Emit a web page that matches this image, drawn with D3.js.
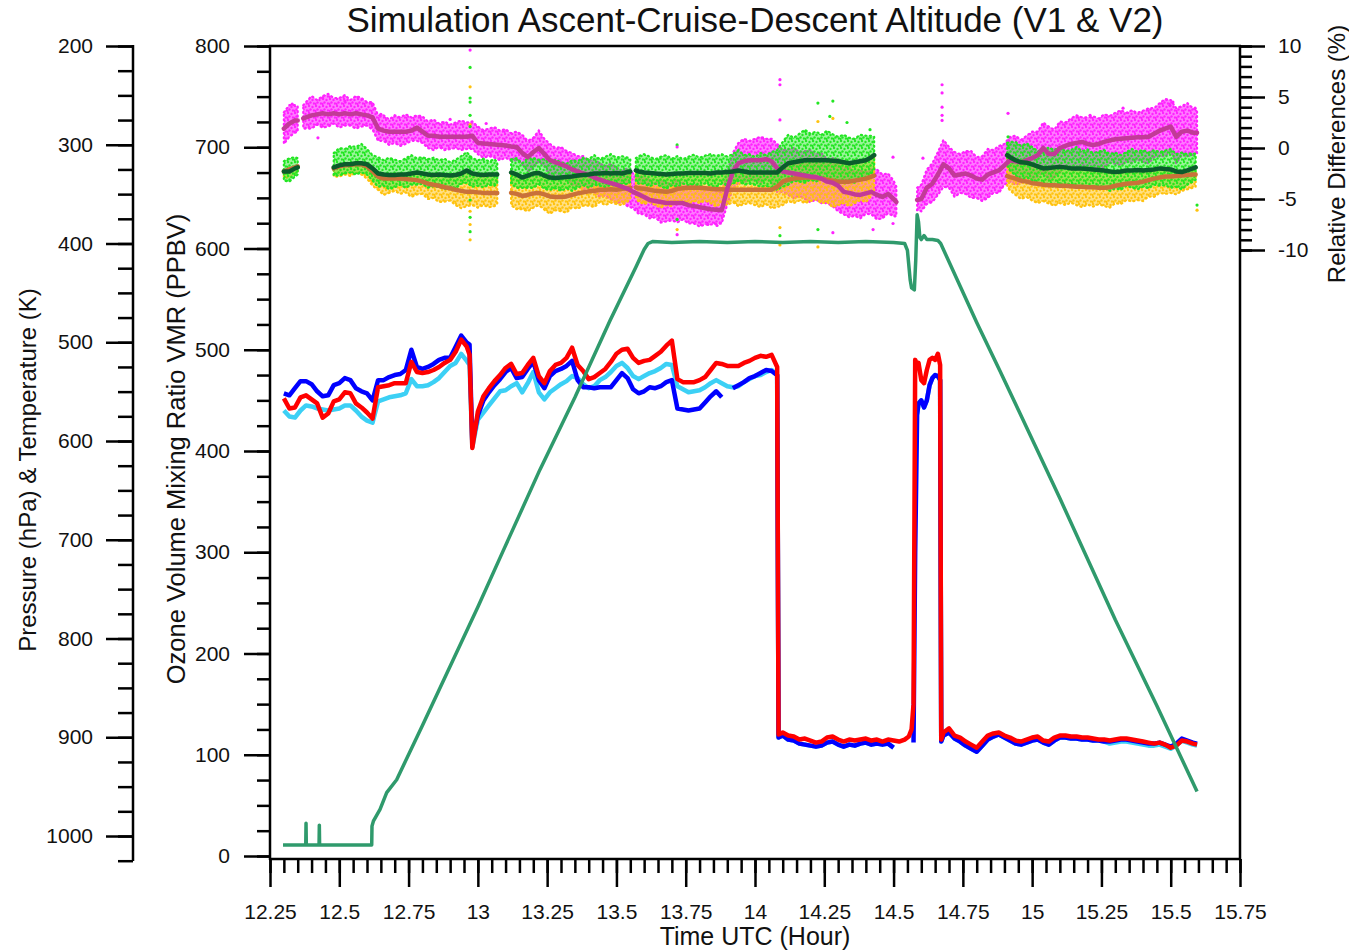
<!DOCTYPE html>
<html>
<head>
<meta charset="utf-8">
<script src="https://cdn.jsdelivr.net/npm/d3@7"></script>
<style>
body { margin: 0; background: #fff; }
text { font-family: "Liberation Sans", Arial, sans-serif; fill: #111; }
.tick line { stroke: #000; stroke-width: 2.5; }
.tick text { font-size: 21px; }
</style>
</head>
<body>
<svg id="chart" width="1349" height="950"></svg>
<script>
// ---- tick labels ----
var timeTicks = [12.25, 12.5, 12.75, 13, 13.25, 13.5, 13.75, 14, 14.25, 14.5, 14.75, 15, 15.25, 15.5, 15.75];
var ozoneTicks = [0, 100, 200, 300, 400, 500, 600, 700, 800];
var pressTicks = [200, 300, 400, 500, 600, 700, 800, 900, 1000];
var relTicks = [-10, -5, 0, 5, 10];

// ---- ozone VMR (ppbv): red, blue, light blue ----
var tOz = [12.30,12.32,12.34,12.36,12.38,12.40,12.42,12.44,12.46,12.48,12.50,12.52,12.54,12.56,12.58,12.60,12.62,12.64,12.66,12.68,12.70,12.72,12.74,12.76,12.78,12.80,12.82,12.84,12.86,12.88,12.90,12.92,12.94,12.96,
  12.97,12.98,
  13.00,13.02,13.04,13.06,13.08,13.10,13.12,13.14,13.16,13.18,13.20,13.22,13.24,13.26,13.28,13.30,13.32,13.34,13.36,13.38,13.40,13.42,13.44,13.46,13.48,13.50,13.52,13.54,13.56,13.58,13.60,13.62,13.64,13.66,13.68,13.70,13.72,13.74,13.76,13.78,13.80,13.82,13.84,13.86,13.88,13.90,13.92,13.94,13.96,13.98,14.00,14.02,14.04,14.06,
  14.08,14.085,
  14.10,14.12,14.14,14.16,14.18,14.20,14.22,14.24,14.26,14.28,14.30,14.32,14.34,14.36,14.38,14.40,14.42,14.44,14.46,14.48,14.50,14.52,14.54,
  14.555,14.565,14.572,14.578,14.585,14.59,14.60,14.61,14.62,14.63,14.64,14.65,14.66,14.668,14.672,14.68,
  14.70,14.72,14.74,14.76,14.78,14.80,14.82,14.84,14.86,14.88,14.90,14.92,14.94,14.96,14.98,15.00,15.02,15.04,15.06,15.08,15.10,15.12,15.14,15.16,15.18,15.20,15.22,15.24,15.26,15.28,15.30,15.32,15.34,15.36,15.38,15.40,15.42,15.44,15.46,15.48,15.50,15.52,15.54,15.56,15.58,
  15.595];

var ozRed = [452,442,443,453,455,451,447,433,437,449,451,458,457,447,443,438,432,463,464,465,467,467,467,488,478,477,478,480,483,487,490,498,510,503,
  495,403,
  439,454,462,469,475,482,486,476,477,485,492,474,467,479,485,487,492,502,485,479,471,473,477,481,488,496,500,501,492,487,489,490,494,498,504,509,471,468,468,468,470,473,480,487,486,484,484,484,487,489,492,494,493,495,
  483,120,
  122,119,118,115,116,114,112,113,117,118,115,113,115,114,115,116,114,115,113,115,114,113,115,
  118,125,150,490,485,487,470,467,480,490,492,490,496,485,115,122,
  126,119,117,113,110,107,113,119,121,122,119,117,114,113,115,117,118,114,113,117,119,119,118,118,117,117,116,115,115,114,115,116,116,115,114,113,112,111,112,110,107,109,114,113,111,
  110];

var ozBlue = [457,455,462,469,469,466,459,454,455,465,467,472,470,462,459,457,450,470,470,473,475,476,480,500,483,481,483,486,490,492,492,503,514,507,
  505,408,
  435,450,458,465,471,478,482,472,473,481,488,470,462,474,479,481,484,489,470,463,463,462,463,463,463,470,477,472,461,457,459,463,462,464,468,470,442,441,440,441,442,448,454,459,453,null,462,465,468,472,474,477,480,479,
  475,117,
  119,115,114,111,110,109,108,109,112,113,110,108,110,109,111,112,110,111,110,111,107,null,null,
  null,null,112,300,436,447,450,443,450,465,472,475,474,470,113,119,
  122,116,113,109,106,103,109,115,118,120,117,114,111,110,112,114,115,112,110,114,117,117,116,116,115,115,114,114,113,113,114,115,115,114,113,112,111,111,112,110,108,111,116,114,112,
  111];

var ozCyan = [440,434,433,440,445,444,442,441,440,441,442,445,445,440,434,430,428,449,451,453,454,455,457,471,464,464,465,468,472,478,484,487,496,489,
  485,404,
  431,438,445,452,459,460,464,467,458,467,478,458,451,458,462,466,469,474,472,466,462,464,470,473,478,484,487,482,474,471,474,477,479,482,486,485,464,461,458,459,460,463,467,470,467,464,463,464,468,471,474,475,478,480,
  475,117,
  119,115,114,111,110,109,108,109,112,113,110,108,110,109,111,112,110,111,110,111,107,null,null,
  null,null,null,null,436,447,450,443,450,465,472,475,474,470,113,119,
  122,116,113,109,106,103,109,115,118,120,117,114,111,110,112,114,115,112,110,114,117,117,116,116,115,115,114,114,113,111,112,113,113,112,111,110,109,109,110,108,106,109,114,112,110,
  109];

// ---- flight profile, pressure (hPa) ----
var tAlt = [12.297,12.379,12.380,12.381,12.427,12.428,12.429,12.617,12.618,12.623,12.647,12.671,12.707,12.80,12.90,13.00,13.09,13.224,13.35,13.477,13.57,13.60,13.614,13.63,13.70,13.80,13.90,14.00,14.10,14.20,14.30,14.40,14.50,14.54,14.55,14.56,14.565,14.575,14.58,14.585,14.59,14.595,14.60,14.61,14.62,14.64,14.66,14.67,14.80,14.884,15.10,15.30,15.45,15.595];
var pAlt = [1009,1009,987,1009,1009,989,1009,1009,990,985,973,956,943,888,828,768,712,629,556,478,424,406,400,398,399,398,399,398,399,398,399,398,399,400,407,437,445,447,417,371,378,394,396,392,396,396,397,400,480,529,658,781,868,955];

// ---- relative differences (%), magenta group ----
var tMag = [12.30,12.32,12.34,12.35,12.36,12.37,
  12.38,12.40,12.42,12.44,12.46,12.48,12.50,12.52,12.54,12.56,12.58,12.60,12.62,
  12.64,12.66,12.68,12.70,12.72,12.74,12.76,12.78,12.80,12.82,12.84,12.86,12.88,12.90,12.92,12.94,12.96,
  12.98,13.00,13.02,13.04,13.06,13.08,13.10,13.12,13.14,13.16,13.18,13.20,13.22,13.24,13.26,13.28,13.30,13.32,13.34,
  13.36,13.38,13.40,13.42,13.44,13.46,13.48,13.50,13.52,13.54,13.56,13.58,13.60,13.62,13.64,13.66,13.68,13.70,13.72,13.74,13.76,13.78,13.80,13.82,13.84,13.86,13.88,
  13.90,13.92,13.94,13.96,13.98,14.00,14.02,14.04,14.06,14.08,14.10,14.12,14.14,14.16,14.18,14.20,14.22,14.24,14.26,14.28,14.30,14.32,14.34,14.36,14.38,14.40,14.42,14.44,14.46,14.48,14.50,
  14.51,14.55,14.585,
  14.60,14.62,14.64,14.66,14.68,14.70,14.72,14.74,14.76,14.78,14.80,14.82,14.84,14.86,14.88,14.90,14.92,14.94,14.96,14.98,15.00,15.02,15.04,15.06,15.08,15.10,15.12,15.14,15.16,15.18,15.20,15.22,15.24,15.26,15.28,15.30,15.32,15.34,15.36,15.38,15.40,15.42,15.44,15.46,15.48,15.50,15.52,15.54,15.56,15.58,
  15.595];
var magMid = [1.9,2.4,2.7,2.7,null,2.9,
  3.0,3.2,3.3,3.4,3.3,3.4,3.3,3.4,3.3,3.4,3.3,3.2,3.0,
  1.9,1.7,1.6,1.6,1.6,1.6,1.7,2.0,1.6,1.2,1.2,1.1,1.1,1.1,1.1,1.1,1.1,
  1.2,0.5,0.45,0.4,0.35,0.3,0.25,0.15,0.1,-0.5,-0.9,-0.4,0.0,-0.6,-1.2,-1.4,-1.6,-1.8,-2.1,
  -2.3,-2.5,-2.65,-2.9,-3.1,-3.3,-3.45,-3.6,-3.8,-4.0,-4.3,-4.55,-4.8,-5.1,-5.2,-5.3,-5.4,-5.4,-5.4,-5.4,-5.6,-5.7,-5.8,-5.9,-6.0,-6.05,-6.1,
  -4.0,-2.3,-1.5,-1.3,-1.2,-1.2,-1.2,-1.1,-1.3,-2.0,-2.3,-2.4,-2.5,-2.6,-2.7,-2.8,-2.85,-3.0,-3.3,-3.4,-3.7,-4.3,-4.4,-4.55,-4.6,-4.45,-4.3,-4.6,-4.8,-4.5,-5.0,
  -5.3,null,-5.1,
  -5.0,-3.9,-3.5,-2.6,-1.6,-2.0,-2.7,-2.6,-2.5,-2.7,-3.0,-3.1,-2.6,-2.4,-2.2,-1.7,-1.2,-1.3,-1.4,-1.2,-1.0,-0.7,0.0,-0.6,-0.6,0.0,0.2,0.4,0.5,0.6,0.4,0.3,0.4,0.6,0.75,0.85,0.9,0.95,1.0,1.05,1.05,1.1,1.4,1.7,1.9,2.1,1.1,1.6,1.7,1.5,
  1.5];
var magUp = [1.6,1.8,1.5,1.4,null,1.3,
  1.5,1.9,1.4,1.7,2.0,1.5,1.6,1.8,1.4,1.7,1.6,1.3,1.5,
  1.3,1.5,1.2,1.6,1.4,1.7,1.3,1.2,1.5,1.4,1.6,1.3,1.5,1.2,1.4,1.6,1.4,
  1.4,1.6,1.3,1.5,1.7,1.4,1.6,1.3,1.5,1.8,1.6,1.4,1.7,1.5,1.6,1.4,1.7,1.5,1.6,
  1.5,1.7,1.4,1.8,1.6,1.5,1.9,1.7,1.6,2.0,1.8,1.7,2.1,1.9,1.8,2.2,2.0,1.9,2.3,2.0,1.8,2.1,1.9,2.0,1.8,1.9,1.7,
  1.6,1.8,2.0,2.2,1.9,2.1,2.3,2.0,2.2,2.4,2.1,2.3,2.5,2.2,2.4,2.6,2.3,2.5,2.2,2.4,2.6,2.3,2.5,2.2,2.4,2.1,2.3,2.5,2.2,2.0,1.8,
  1.5,null,1.2,
  1.4,1.8,2.0,2.2,2.4,2.1,2.3,2.0,2.2,2.4,2.1,2.3,2.5,2.2,2.4,2.1,2.3,2.5,2.2,2.4,2.6,2.3,2.5,2.7,2.4,2.6,2.3,2.5,2.7,2.4,2.6,2.8,2.5,2.7,2.4,2.6,2.8,2.5,2.7,2.4,2.6,2.8,2.5,2.7,2.9,2.6,2.8,2.5,2.7,2.4,
  2.2];
var magDn = [1.5,1.3,1.2,1.1,null,1.0,
  1.1,1.3,1.0,1.4,1.2,1.0,1.3,1.2,1.1,1.5,1.2,1.0,1.2,
  1.2,1.0,1.3,1.1,1.4,1.2,1.0,1.3,1.1,1.2,1.4,1.0,1.3,1.2,1.1,1.3,1.2,
  1.3,1.1,1.4,1.2,1.3,1.5,1.2,1.4,1.3,1.1,1.4,1.6,1.3,1.2,1.5,1.3,1.4,1.2,1.5,
  1.4,1.6,1.3,1.5,1.7,1.4,1.6,1.8,1.5,1.7,1.6,1.9,1.7,1.8,1.6,2.0,1.8,1.7,1.9,1.6,1.8,1.7,1.9,1.6,1.5,1.4,1.3,
  1.5,1.7,1.9,2.1,1.8,2.0,2.2,1.9,2.1,2.3,2.0,2.2,2.4,2.1,2.3,2.5,2.2,2.4,2.1,2.3,2.5,2.2,2.4,2.1,2.3,2.0,2.2,2.4,2.1,1.9,1.7,
  1.4,null,1.0,
  1.2,1.6,1.8,2.0,2.2,1.9,2.1,1.8,2.0,2.2,1.9,2.1,2.3,2.0,2.2,1.9,2.1,2.3,2.0,2.2,2.4,2.1,2.3,2.5,2.2,2.4,2.1,2.3,2.5,2.2,2.4,2.6,2.3,2.5,2.2,2.4,2.6,2.3,2.5,2.2,2.4,2.6,2.3,2.5,2.7,2.4,2.6,2.3,2.5,2.2,
  2.0];

// ---- relative differences (%), green / orange group ----
var tGrn = [12.30,12.32,12.34,12.35,12.40,
  12.48,12.50,12.52,12.54,12.56,12.58,12.60,12.62,12.64,12.66,12.68,12.70,12.72,12.74,12.76,12.78,12.80,12.82,12.84,12.86,12.88,12.90,12.92,12.94,12.96,12.98,13.00,13.02,13.04,13.06,13.07,
  13.10,
  13.12,13.14,13.16,13.18,13.20,13.22,13.24,13.26,13.28,13.30,13.32,13.34,13.36,13.38,13.40,13.42,13.44,13.46,13.48,13.50,13.52,13.54,13.55,
  13.56,
  13.57,13.58,13.60,13.62,13.64,13.66,13.68,13.70,13.72,13.74,13.76,13.78,13.80,13.82,13.84,13.86,13.88,13.90,13.92,13.94,13.96,13.98,14.00,14.02,14.04,14.06,14.08,14.10,14.12,14.14,14.16,14.18,14.20,14.22,14.24,14.26,14.28,14.30,14.32,14.34,14.36,14.38,14.40,14.42,14.43,
  14.60,
  14.91,14.92,14.94,14.96,14.98,15.00,15.02,15.04,15.06,15.08,15.10,15.12,15.14,15.16,15.18,15.20,15.22,15.24,15.26,15.28,15.30,15.32,15.34,15.36,15.38,15.40,15.42,15.44,15.46,15.48,15.50,15.52,15.54,15.56,15.58,15.59];
var dkGreen = [-2.3,-2.3,-2.0,-1.9,null,
  -1.9,-1.7,-1.6,-1.6,-1.5,-1.5,-1.6,-2.0,-2.5,-2.6,-2.65,-2.65,-2.6,-2.6,-2.5,-2.4,-2.5,-2.6,-2.65,-2.6,-2.65,-2.7,-2.65,-2.5,-2.2,-2.5,-2.6,-2.65,-2.6,-2.6,-2.6,
  null,
  -2.4,-2.6,-2.9,-2.7,-2.5,-2.45,-2.7,-2.9,-2.95,-2.9,-2.85,-2.8,-2.7,-2.65,-2.6,-2.5,-2.5,-2.45,-2.5,-2.45,-2.5,-2.35,-2.3,
  null,
  -2.2,-2.3,-2.4,-2.45,-2.5,-2.55,-2.6,-2.55,-2.5,-2.5,-2.45,-2.45,-2.45,-2.45,-2.5,-2.4,-2.4,-2.35,-2.3,-2.2,-2.3,-2.4,-2.4,-2.4,-2.4,-2.4,-2.4,-1.9,-1.5,-1.4,-1.3,-1.2,-1.2,-1.2,-1.2,-1.2,-1.25,-1.3,-1.4,-1.5,-1.4,-1.3,-1.2,-0.9,-0.7,
  null,
  -0.7,-0.9,-1.2,-1.4,-1.45,-1.6,-1.8,-2.0,-1.95,-1.9,-1.85,-1.9,-2.0,-2.0,-2.0,-2.05,-2.1,-2.15,-2.2,-2.3,-2.35,-2.3,-2.2,-2.2,-2.15,-2.2,-2.15,-2.1,-2.0,-2.05,-2.1,-2.3,-2.35,-2.2,-2.0,-1.9];
var brown = [-2.3,-2.1,-1.9,-1.8,null,
  -2.0,-1.8,-1.7,-1.65,-1.6,-1.6,-1.8,-2.3,-2.8,-3.0,-3.0,-3.0,-3.0,-3.05,-3.1,-3.15,-3.3,-3.5,-3.6,-3.7,-3.85,-3.95,-4.1,-4.2,-4.3,-4.3,-4.35,-4.4,-4.4,-4.4,-4.4,
  null,
  -4.4,-4.5,-4.7,-4.6,-4.45,-4.4,-4.55,-4.75,-4.8,-4.8,-4.75,-4.6,-4.45,-4.35,-4.25,-4.2,-4.1,-4.1,-4.05,-4.1,-4.0,-3.95,-3.9,
  null,
  -3.85,-3.95,-4.0,-4.1,-4.2,-4.25,-4.3,-4.2,-4.0,-3.95,-3.9,-3.9,-3.9,-3.95,-4.0,-4.05,-4.05,-4.1,-4.1,-4.1,-4.1,-4.1,-4.1,-4.1,-4.1,-4.1,-3.8,-3.3,-3.1,-3.0,-2.95,-2.9,-2.9,-2.95,-3.0,-3.1,-3.2,-3.3,-3.3,-3.3,-3.2,-3.1,-3.0,-2.8,-2.7,
  null,
  -2.75,-2.85,-3.0,-3.2,-3.3,-3.45,-3.5,-3.6,-3.65,-3.65,-3.7,-3.7,-3.75,-3.8,-3.8,-3.85,-3.85,-3.9,-3.9,-3.85,-3.7,-3.6,-3.5,-3.45,-3.4,-3.3,-3.15,-3.0,-2.9,-2.8,-2.8,-2.75,-2.7,-2.65,-2.6,-2.6];
var grnUp = [1.0,1.3,1.1,0.9,null,
  1.4,1.7,1.5,1.8,1.6,1.9,1.5,1.3,1.6,1.4,1.7,1.5,1.3,1.6,1.8,1.4,1.6,1.5,1.7,1.4,1.6,1.3,1.5,1.7,1.8,1.5,1.4,1.6,1.3,1.5,1.2,
  null,
  1.3,1.6,1.4,1.7,1.5,1.3,1.6,1.4,1.8,1.5,1.3,1.6,1.4,1.7,1.5,1.8,1.4,1.6,1.9,1.5,1.7,1.4,1.2,
  null,
  1.2,1.5,1.8,1.6,1.4,1.7,1.9,1.5,1.7,1.4,1.6,1.8,1.5,1.7,1.9,1.6,1.8,1.5,1.7,2.0,1.6,1.8,1.5,1.9,1.7,2.0,2.2,2.5,2.8,2.4,2.7,3.0,2.6,2.8,2.5,2.9,2.6,2.4,2.7,2.5,2.3,2.6,2.4,2.1,1.8,
  null,
  1.2,1.5,1.8,1.6,1.9,1.7,1.5,1.8,2.0,1.7,1.9,1.6,1.8,2.1,1.7,1.9,1.6,1.8,2.0,1.7,1.9,1.6,1.8,2.1,1.8,2.0,1.7,1.9,1.6,1.8,2.0,1.7,1.9,1.6,1.5,1.3];
var grnDn = [0.9,1.0,0.8,0.7,null,
  0.8,1.0,0.9,0.8,1.1,0.9,1.0,1.2,1.3,1.1,1.4,1.2,1.0,1.3,1.1,1.2,1.0,1.3,1.1,1.2,1.4,1.1,1.3,1.0,1.2,1.3,1.1,1.2,1.0,1.1,0.9,
  null,
  1.1,1.3,1.0,1.2,1.4,1.1,1.3,1.2,1.0,1.3,1.1,1.4,1.2,1.0,1.3,1.1,1.2,1.4,1.1,1.3,1.0,1.2,1.0,
  null,
  1.0,1.2,1.1,1.3,1.0,1.2,1.4,1.1,1.3,1.0,1.2,1.1,1.3,1.0,1.2,1.4,1.1,1.3,1.2,1.0,1.3,1.1,1.2,1.4,1.3,1.5,1.7,1.9,2.1,1.8,2.0,2.2,1.9,2.1,1.8,2.0,2.2,1.9,2.1,1.8,2.0,1.7,1.9,1.6,1.4,
  null,
  1.0,1.3,1.5,1.7,1.4,1.6,1.8,1.5,1.7,1.9,1.6,1.8,1.5,1.7,1.9,1.6,1.8,1.5,1.7,1.9,1.6,1.8,1.5,1.7,1.9,1.6,1.8,1.5,1.7,1.6,1.8,1.5,1.7,1.4,1.3,1.2];
var orgDn = [0.6,0.8,0.7,0.5,null,
  0.8,1.0,0.9,1.1,0.8,1.0,1.2,1.4,1.3,1.6,1.4,1.2,1.5,1.3,1.7,1.4,1.2,1.5,1.3,1.6,1.4,1.2,1.5,1.7,1.4,1.3,1.5,1.2,1.4,1.3,1.1,
  null,
  1.2,1.5,1.3,1.6,1.4,1.2,1.5,1.7,1.3,1.4,1.6,1.2,1.5,1.3,1.4,1.6,1.2,1.5,1.3,1.4,1.6,1.3,1.1,
  null,
  1.0,1.3,1.5,1.2,1.4,1.6,1.3,1.5,1.2,1.4,1.6,1.3,1.5,1.2,1.4,1.7,1.3,1.5,1.2,1.6,1.4,1.3,1.5,1.7,1.4,1.8,2.0,2.3,2.1,2.4,2.2,2.5,2.3,2.1,2.4,2.2,2.6,2.3,2.1,2.4,2.2,2.0,2.3,1.9,1.6,
  null,
  1.0,1.3,1.6,1.8,1.5,1.7,1.9,1.6,1.8,2.0,1.7,1.9,1.6,1.8,2.0,1.7,1.9,1.6,1.8,2.0,1.7,1.9,1.6,1.8,1.7,1.9,1.6,1.8,1.5,1.7,1.6,1.8,1.5,1.4,1.3,1.2];

// stray points away from the clouds: [hour, %]
var magOut = [[12.972,9.6],[12.33,4.3],[12.44,4.9],[12.52,4.6],[12.423,1.0],[12.65,3.3],[12.90,2.8],[13.03,2.4],[13.719,0.1],[13.719,-8.5],[13.83,-7.5],[13.863,-7.6],[14.09,6.7],[14.09,6.2],[14.09,2.75],[14.281,-8.3],[14.426,-8.0],[14.498,-7.4],[14.498,-0.9],[14.675,6.2],[14.675,5.4],[14.675,4.0],[14.675,3.2],[14.675,2.7],[14.606,-1.0],[14.913,3.4],[15.209,3.2],[15.328,3.9],[15.497,4.2],[15.508,4.5],[15.588,3.9]];
var grnOut = [[12.972,7.9],[12.972,4.9],[12.972,4.5],[12.972,3.2],[12.972,2.1],[12.972,-0.9],[12.972,-5.1],[12.972,-6.8],[12.972,-8.2],[13.719,0.3],[13.719,-7.0],[14.09,-8.6],[14.227,4.4],[14.281,4.6],[14.27,3.1],[14.332,2.5],[14.415,1.8],[14.227,-8.0],[14.913,1.1],[15.595,-5.6]];
var orgOut = [[12.972,6.0],[12.972,2.3],[12.972,-6.2],[12.972,-7.5],[12.972,-9.0],[13.719,-8.0],[14.09,-7.8],[14.09,-9.5],[14.227,2.6],[14.227,-9.7],[14.281,2.9],[15.595,-6.1]];

// ---- scales ----
var svg = d3.select("#chart");
var x = d3.scaleLinear().domain([12.25, 15.75]).range([270, 1240]);
var yOz = d3.scaleLinear().domain([0, 800]).range([856, 46]);
var yP = d3.scaleLinear().domain([200, 1025]).range([46, 860.7]);
var yR = d3.scaleLinear().domain([-10, 10]).range([250, 46]);

// speckle fills for the point clouds
var defs = svg.append("defs");
function speckle(id, color, base) {
    var p = defs.append("pattern").attr("id", id).attr("patternUnits", "userSpaceOnUse")
        .attr("width", 7).attr("height", 7);
    p.append("rect").attr("width", 7).attr("height", 7).attr("fill", color).attr("fill-opacity", base);
    [[1, 1], [4.5, 2], [2.5, 4.5], [6, 5.5], [0.5, 6]].forEach(function(c) {
        p.append("circle").attr("cx", c[0]).attr("cy", c[1]).attr("r", 1.2).attr("fill", color);
    });
}
speckle("spOrg", "#ffc20e", 0.5);
speckle("spGrn", "#22e622", 0.45);
speckle("spMag", "#ff22ff", 0.6);

// ---- axes ----
function styleAxis(g) {
    g.select(".domain").remove();
}
var plain = d => String(d);
// pressure axis
var pAxisG = svg.append("g").attr("transform", "translate(133,0)");
pAxisG.append("g").call(d3.axisLeft(yP).tickValues(d3.range(200, 1026, 25)).tickSize(15).tickFormat("")).call(styleAxis);
pAxisG.append("g").call(d3.axisLeft(yP).tickValues(pressTicks).tickSize(27).tickPadding(13).tickFormat(plain)).call(styleAxis);
// ozone axis
var oAxisG = svg.append("g").attr("transform", "translate(270,0)");
oAxisG.append("g").call(d3.axisLeft(yOz).tickValues(d3.range(0, 801, 25)).tickSize(13).tickFormat("")).call(styleAxis);
oAxisG.append("g").call(d3.axisLeft(yOz).tickValues(ozoneTicks).tickSize(26).tickPadding(14).tickFormat(plain)).call(styleAxis);
// relative differences axis
var rAxisG = svg.append("g").attr("transform", "translate(1240,0)");
rAxisG.append("g").call(d3.axisRight(yR).tickValues(d3.range(-10, 11, 1)).tickSize(12).tickFormat("")).call(styleAxis);
rAxisG.append("g").call(d3.axisRight(yR).tickValues(relTicks).tickSize(25).tickPadding(13).tickFormat(plain)).call(styleAxis);
// time axis
var xAxisG = svg.append("g").attr("transform", "translate(0,859)");
xAxisG.append("g").call(d3.axisBottom(x).tickValues(d3.range(0, 71).map(i => 12.25 + i * 0.05)).tickSize(14).tickFormat("")).call(styleAxis);
xAxisG.append("g").call(d3.axisBottom(x).tickValues(timeTicks).tickSize(28).tickPadding(17).tickFormat(plain)).call(styleAxis);

// frame and axis lines
var frame = svg.append("g").attr("stroke", "#000").attr("stroke-width", 2.5).attr("fill", "none");
frame.append("line").attr("x1", 133).attr("x2", 133).attr("y1", 45).attr("y2", 861);
frame.append("line").attr("x1", 270).attr("x2", 270).attr("y1", 45).attr("y2", 860);
frame.append("line").attr("x1", 269).attr("x2", 1241).attr("y1", 46).attr("y2", 46);
frame.append("line").attr("x1", 1240).attr("x2", 1240).attr("y1", 45).attr("y2", 860);
frame.append("line").attr("x1", 269).attr("x2", 1241).attr("y1", 859).attr("y2", 859);

// ---- clouds of relative differences ----
var grnRows = tGrn.map((t, i) => ({t: t, m: dkGreen[i], b: brown[i], u: grnUp[i], d: grnDn[i], o: orgDn[i]}));
var magRows = tMag.map((t, i) => ({t: t, m: magMid[i], u: magUp[i], d: magDn[i]}));

var orgArea = d3.area().defined(d => d.m != null).x(d => x(d.t)).y0(d => yR(d.b - d.o)).y1(d => yR(d.m));
var grnArea = d3.area().defined(d => d.m != null).x(d => x(d.t)).y0(d => yR(d.m - d.d)).y1(d => yR(d.m + d.u));
var magArea = d3.area().defined(d => d.m != null).x(d => x(d.t)).y0(d => yR(d.m - d.d)).y1(d => yR(d.m + d.u));

function cloud(path, color, pat) {
    svg.append("path").attr("d", path).attr("fill", "url(#" + pat + ")")
        .attr("stroke", color).attr("stroke-width", 2.2).attr("stroke-dasharray", "1 3.5")
        .attr("stroke-linecap", "round");
}
cloud(magArea(magRows), "#ff22ff", "spMag");
cloud(orgArea(grnRows), "#ffc20e", "spOrg");
cloud(grnArea(grnRows), "#22e622", "spGrn");

function dots(list, color) {
    svg.append("g").selectAll("circle").data(list).enter().append("circle")
        .attr("cx", d => x(d[0])).attr("cy", d => yR(d[1])).attr("r", 1.6).attr("fill", color);
}
dots(orgOut, "#ffc20e");
dots(grnOut, "#22e622");
dots(magOut, "#ff22ff");

// smoothed lines
var rLine = d3.line().defined(d => d[1] != null).x(d => x(d[0])).y(d => yR(d[1]));
function smooth(vals, times, color) {
    svg.append("path").attr("d", rLine(times.map((t, i) => [t, vals[i]]))).attr("fill", "none")
        .attr("stroke", color).attr("stroke-width", 4.5).attr("stroke-linejoin", "round").attr("stroke-linecap", "round");
}
smooth(brown, tGrn, "#c9713a");
smooth(magMid, tMag, "#c23a98");
smooth(dkGreen, tGrn, "#0b5c2c");

// ---- ozone lines ----
var oLine = d3.line().defined(d => d[1] != null).x(d => x(d[0])).y(d => yOz(d[1]));
function ozPath(vals, color) {
    svg.append("path").attr("d", oLine(tOz.map((t, i) => [t, vals[i]])))
        .attr("fill", "none").attr("stroke", color).attr("stroke-width", 4.5).attr("stroke-linejoin", "round");
}
ozPath(ozCyan, "#3cd0f5");
ozPath(ozBlue, "#0000ff");
ozPath(ozRed, "#ff0000");

// ---- flight profile ----
var aLine = d3.line().x((d, i) => x(tAlt[i])).y(d => yP(d));
svg.append("path").attr("d", aLine(pAlt)).attr("fill", "none").attr("stroke", "#2f9a6c").attr("stroke-width", 3.5).attr("stroke-linejoin", "round");

// ---- titles ----
svg.append("text").attr("x", 755).attr("y", 32).attr("text-anchor", "middle").attr("font-size", 35)
    .text("Simulation Ascent-Cruise-Descent Altitude (V1 & V2)");
svg.append("text").attr("x", 755).attr("y", 945).attr("text-anchor", "middle").attr("font-size", 25)
    .text("Time UTC (Hour)");
svg.append("text").attr("transform", "translate(185,449) rotate(-90)").attr("text-anchor", "middle").attr("font-size", 25.5)
    .text("Ozone Volume Mixing Ratio VMR (PPBV)");
svg.append("text").attr("transform", "translate(36,470) rotate(-90)").attr("text-anchor", "middle").attr("font-size", 24)
    .text("Pressure (hPa) & Temperature (K)");
svg.append("text").attr("transform", "translate(1345,154) rotate(-90)").attr("text-anchor", "middle").attr("font-size", 24)
    .text("Relative Differences (%)");
</script>
</body>
</html>
